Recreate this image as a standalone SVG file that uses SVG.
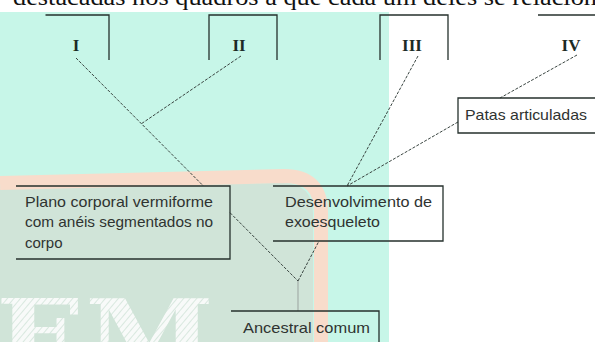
<svg xmlns="http://www.w3.org/2000/svg" width="595" height="342" viewBox="0 0 595 342">
<style>
.box{fill:none;stroke:#26312d;stroke-width:1.3}
.lbl{font-family:"Liberation Serif","Times New Roman",serif;font-weight:bold;font-size:17px;fill:#1c2a25;text-anchor:middle}
.t{font-family:"Liberation Sans",Arial,sans-serif;font-size:15px;fill:#2f3331}
.dash{fill:none;stroke:#3a4541;stroke-width:1;stroke-dasharray:3 1.5}
</style>
<defs>
<pattern id="hatch" width="5" height="5" patternUnits="userSpaceOnUse" patternTransform="rotate(-50)">
<rect width="5" height="5" fill="#ffffff"/>
<line x1="0" y1="2.5" x2="5" y2="2.5" stroke="#dbe9e1" stroke-width="1"/>
</pattern>
</defs>
<rect width="595" height="342" fill="#ffffff"/>
<text x="13" y="5" font-family="Liberation Serif,'Times New Roman',serif" font-size="24" fill="#111" textLength="584" lengthAdjust="spacingAndGlyphs">destacadas nos quadros a que cada um deles se relacion</text>
<rect x="0" y="12" width="389" height="330" fill="#c7f6e8"/>
<path d="M0,189 L282,183 Q313,183 313,214 V342 H0 Z" fill="#d0e4d8"/>
<path d="M0,183 L284,176 Q321,176 321,212 V342" fill="none" stroke="#f8dccb" stroke-width="14"/>
<text x="-4" y="368" font-family="DejaVu Serif,serif" font-weight="bold" font-size="96" fill="url(#hatch)" opacity="0.85" textLength="218" lengthAdjust="spacingAndGlyphs">EM</text>
<g id="connectors">
<line class="dash" x1="76" y1="58" x2="203.4" y2="186"/>
<line class="dash" x1="230" y1="212.7" x2="298" y2="281"/>
<line class="dash" x1="241" y1="56" x2="141" y2="124"/>
<line class="dash" x1="298" y1="281" x2="319" y2="241"/>
<line x1="298" y1="281" x2="298" y2="311" stroke="#9aa39f" stroke-width="1"/>
<line class="dash" x1="418" y1="56" x2="347" y2="186"/>
<line class="dash" x1="577" y1="55" x2="500" y2="98"/>
<line class="dash" x1="458" y1="122" x2="347" y2="186"/>
</g>
<g id="box-I">
<polyline class="box" points="45.5,15 109,15 109,60"/>
<text class="lbl" x="76" y="51">I</text>
</g>
<g id="box-II">
<polyline class="box" points="209,60 209,15 277,15 277,60"/>
<text class="lbl" x="239" y="51">II</text>
</g>
<g id="box-III">
<polyline class="box" points="380,60 380,15 448,15 448,60"/>
<text class="lbl" x="412" y="51">III</text>
</g>
<g id="box-IV">
<line class="box" x1="538" y1="15" x2="595" y2="15"/>
<text class="lbl" x="571" y="51">IV</text>
</g>
<g id="plano">
<polyline class="box" points="16,186 230,186 230,259 16,259"/>
<text class="t" x="25" y="207" textLength="188" lengthAdjust="spacingAndGlyphs">Plano corporal vermiforme</text>
<text class="t" x="25" y="227" textLength="188" lengthAdjust="spacingAndGlyphs">com anéis segmentados no</text>
<text class="t" x="25" y="248">corpo</text>
</g>
<g id="desenvolvimento">
<polyline class="box" points="273,186 443,186 443,241 273,241"/>
<text class="t" x="285" y="207" textLength="147" lengthAdjust="spacingAndGlyphs">Desenvolvimento de</text>
<text class="t" x="285" y="227" textLength="95" lengthAdjust="spacingAndGlyphs">exoesqueleto</text>
</g>
<g id="patas">
<polyline class="box" points="595,98 458,98 458,133 595,133"/>
<text class="t" x="465" y="120" textLength="122" lengthAdjust="spacingAndGlyphs">Patas articuladas</text>
</g>
<g id="ancestral">
<polyline class="box" points="231,311 379,311 379,342"/>
<text class="t" x="243" y="333" textLength="127" lengthAdjust="spacingAndGlyphs">Ancestral comum</text>
</g>
</svg>
